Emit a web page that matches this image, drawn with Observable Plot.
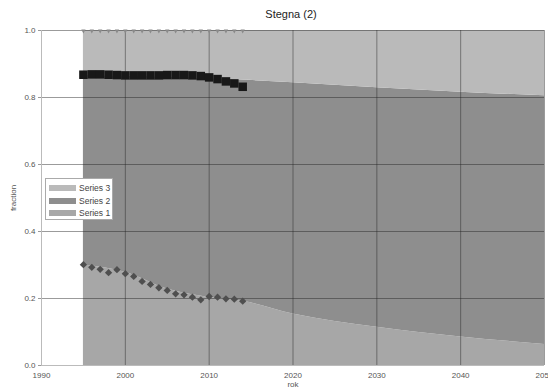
<!DOCTYPE html>
<html>
<head>
<meta charset="utf-8">
<script src="https://cdn.jsdelivr.net/npm/d3@7"></script>
<script src="https://cdn.jsdelivr.net/npm/@observablehq/plot@0.6"></script>
<style>
  html, body { margin: 0; padding: 0; background: #fff; overflow: hidden; width: 548px; height: 388px; }
  body { font-family: "Liberation Sans", Arial, sans-serif; position: relative; }
  #title { height: 22px; line-height: 22px; text-align: center; font-size: 11px; color: #222; padding-left: 34px; box-sizing: border-box; width: 548px; padding-top: 3px;}
  #legend { position: absolute; left: 45px; top: 178px; width: 68px; height: 42px; background: #fff; border: 1px solid #aaa; box-sizing: border-box; padding-top: 3px; }
  .row { display: flex; align-items: center; height: 12.5px; font-size: 8.5px; color: #444; white-space: nowrap; }
  .sw { width: 27px; height: 6px; margin-left: 3px; margin-right: 3px; flex: none; }
</style>
</head>
<body>
<div id="title">Stegna (2)</div>
<div id="chart"></div>
<div id="legend"></div>
<script>
// Modelled stacked fractions (area)
const areaYears = [1995, 2000, 2005, 2010, 2014, 2020, 2030, 2040, 2050];
const series1 = [0.300, 0.278, 0.228, 0.203, 0.192, 0.154, 0.114, 0.085, 0.063];
const series2 = [0.566, 0.586, 0.633, 0.654, 0.660, 0.690, 0.715, 0.731, 0.742];
const series3 = [0.134, 0.136, 0.139, 0.143, 0.148, 0.156, 0.171, 0.184, 0.195];

// Observed points
const obsYears = [1995, 1996, 1997, 1998, 1999, 2000, 2001, 2002, 2003, 2004,
                  2005, 2006, 2007, 2008, 2009, 2010, 2011, 2012, 2013, 2014];
const obsSeries1 = [0.301, 0.293, 0.287, 0.277, 0.286, 0.274, 0.266, 0.251, 0.242, 0.232,
                    0.224, 0.214, 0.211, 0.204, 0.196, 0.206, 0.204, 0.199, 0.198, 0.192];
const obsSeries12 = [0.868, 0.869, 0.869, 0.868, 0.867, 0.866, 0.866, 0.866, 0.866, 0.866,
                     0.867, 0.867, 0.867, 0.866, 0.864, 0.860, 0.855, 0.848, 0.842, 0.832];
const obsTotal = [1, 1, 1, 1, 1, 1, 1, 1, 1, 1, 1, 1, 1, 1, 1, 1, 1, 1, 1, 1];

const seriesNames = ["Series 1", "Series 2", "Series 3"];
const seriesColors = ["#a7a7a7", "#8e8e8e", "#bababa"];
const xTicks = [1990, 2000, 2010, 2020, 2030, 2040, 2050];
const yTicks = [0, 0.2, 0.4, 0.6, 0.8, 1.0];

const areaData = [];
[series1, series2, series3].forEach((s, k) => {
  areaYears.forEach((yr, i) => areaData.push({year: yr, value: s[i], series: seriesNames[k]}));
});
const obs = obsYears.map((yr, i) => ({year: yr, s1: obsSeries1[i], s12: obsSeries12[i], tot: obsTotal[i]}));

const triangleDown = {
  draw(context, size) {
    const s = Math.sqrt(size) * 1.1;
    context.moveTo(-s / 2, -s / 4);
    context.lineTo(s / 2, -s / 4);
    context.lineTo(0, s * 0.7);
    context.closePath();
  }
};

const chart = Plot.plot({
  width: 548,
  height: 366,
  marginLeft: 41,
  marginRight: 4,
  marginTop: 8,
  marginBottom: 23,
  style: {fontFamily: "Liberation Sans, Arial, sans-serif", fontSize: "8px", color: "#555", background: "#fff", overflow: "visible"},
  x: {domain: [1990, 2050]},
  y: {domain: [0, 1]},
  color: {domain: seriesNames, range: seriesColors},
  marks: [
    Plot.areaY(areaData, {x: "year", y: "value", fill: "series", curve: "monotone-x", order: seriesNames}),
    Plot.gridX(xTicks.slice(1), {stroke: "#222", strokeOpacity: 0.45}),
    Plot.gridY(yTicks.slice(1), {stroke: "#222", strokeOpacity: 0.45}),
    Plot.ruleX([1990], {stroke: "#bbb"}),
    Plot.ruleY([0], {stroke: "#bbb"}),
    Plot.axisX(xTicks, {tickSize: 0, tickPadding: 7, tickFormat: d => String(d), label: "rok", labelAnchor: "center", labelArrow: "none", labelOffset: 21, fontSize: 8}),
    Plot.axisY(yTicks, {tickSize: 3, tickPadding: 3, tickFormat: d3.format(".1f"), label: "fraction", labelAnchor: "center", labelOffset: 31, labelArrow: "none", stroke: "#999", fontSize: 8}),
    Plot.dot(obs, {x: "year", y: "tot", symbol: triangleDown, r: 2.2, fill: "#8a8a8a", stroke: null}),
    Plot.dot(obs, {x: "year", y: "s12", symbol: "square", r: 4.8, fill: "#181818", stroke: null}),
    Plot.dot(obs, {x: "year", y: "s1", symbol: "diamond2", r: 3.3, fill: "#4f4f4f", stroke: null})
  ]
});
document.getElementById("chart").appendChild(chart);

const legend = document.getElementById("legend");
[2, 1, 0].forEach(k => {
  const row = document.createElement("div");
  row.className = "row";
  const sw = document.createElement("div");
  sw.className = "sw";
  sw.style.background = seriesColors[k];
  const t = document.createElement("span");
  t.textContent = seriesNames[k];
  row.appendChild(sw); row.appendChild(t);
  legend.appendChild(row);
});
</script>
</body>
</html>
